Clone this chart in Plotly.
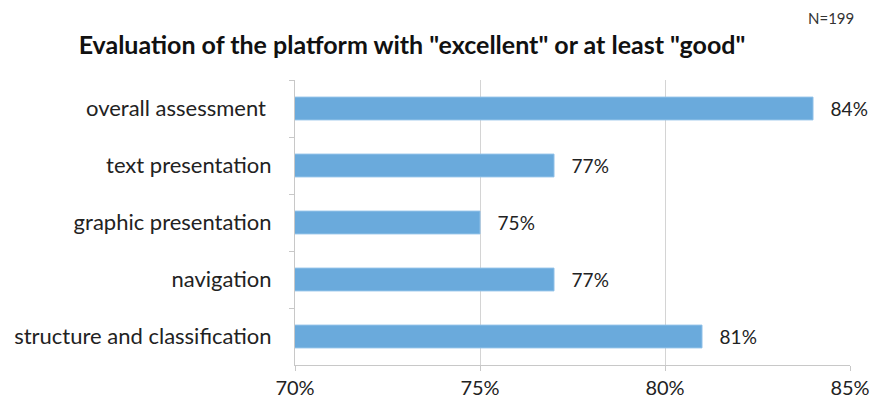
import plotly.graph_objects as go

categories = ["overall assessment ", "text presentation", "graphic presentation", "navigation", "structure and classification"]
values = [84, 77, 75, 77, 81]
tick_vals = [70, 75, 80, 85]
tick_text = ["70%", "75%", "80%", "85%"]

FONT = "Lato"
fig = go.Figure(go.Bar(
    y=categories, x=values, orientation="h",
    marker=dict(color="#6aaadc", line=dict(color="#8fc0e8", width=1)),
    text=["   %d%%" % v for v in values], textposition="outside",
    textfont=dict(family=FONT, size=20, color="#222222"),
    cliponaxis=False, width=0.4,
))
fig.update_layout(
    width=873, height=410, margin=dict(l=295, r=23, t=80, b=45, autoexpand=False),
    paper_bgcolor="white", plot_bgcolor="white", showlegend=False,
    title=dict(text='<b>Evaluation of the platform with "excellent" or at least "good"</b>',
               x=412/873, xanchor="center", y=1-45/410, yanchor="middle",
               font=dict(family=FONT, size=25, color="#111111")),
    annotations=[dict(text="N=199", x=(831-295)/555, y=(365-18)/285, xref="paper", yref="paper",
                      xanchor="center", yanchor="middle", showarrow=False,
                      font=dict(family=FONT, size=15, color="#333333"))],
)
fig.update_xaxes(range=[70, 85], tickvals=tick_vals, ticktext=tick_text, automargin=False,
                 showgrid=True, gridcolor="#d4d4d4", gridwidth=1,
                 showline=True, linecolor="#c8c8c8", ticks="outside", ticklen=5,
                 tickcolor="#c8c8c8", zeroline=False,
                 tickfont=dict(family=FONT, size=20, color="#222222"))
fig.update_yaxes(autorange="reversed", showline=True, linecolor="#c8c8c8", automargin=False,
                 ticks="outside", tickson="boundaries", ticklen=5, tickcolor="#c8c8c8",
                 ticklabelstandoff=18,
                 tickfont=dict(family=FONT, size=22, color="#222222"))
fig.write_html("out.html")
